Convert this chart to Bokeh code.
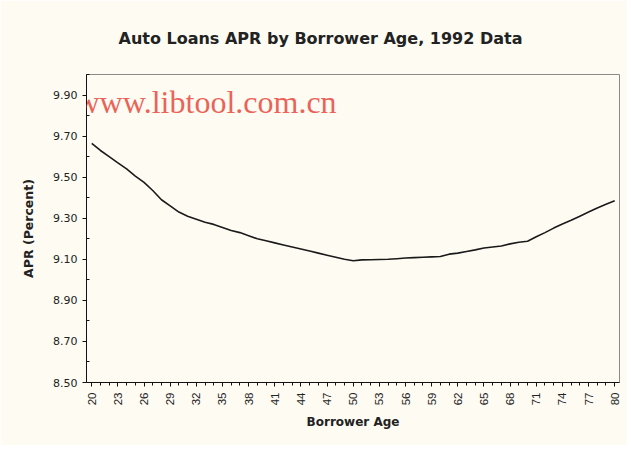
import math
from bokeh.plotting import figure
from bokeh.models import Range1d, FixedTicker, CustomJSTickFormatter, Label
from bokeh.embed import file_html
from bokeh.resources import INLINE

ages = list(range(20, 81))
apr = [9.665, 9.63, 9.60, 9.57, 9.54, 9.505, 9.475, 9.435, 9.39, 9.36,
       9.33, 9.31, 9.295, 9.28, 9.27, 9.255, 9.24, 9.23, 9.215, 9.20,
       9.19, 9.18, 9.17, 9.16, 9.15, 9.14, 9.13, 9.12, 9.11, 9.10,
       9.093, 9.097, 9.098, 9.099, 9.10, 9.103, 9.106, 9.108, 9.110, 9.112,
       9.114, 9.125, 9.13, 9.138, 9.146, 9.155, 9.16, 9.165, 9.175, 9.183,
       9.188, 9.21, 9.23, 9.252, 9.272, 9.29, 9.31, 9.33, 9.35, 9.368,
       9.385]
x_tick_labels = list(range(20, 81, 3))
y_ticks = [8.5, 8.7, 8.9, 9.1, 9.3, 9.5, 9.7, 9.9]

BG = "#FDFBF2"
TXT = "#222222"
FONT = "DejaVu Sans"

p = figure(width=627, height=445, output_backend="svg", toolbar_location=None,
           x_range=Range1d(20 - 0.6, 80 + 0.55), y_range=Range1d(8.5, 10.0),
           min_border_left=86, min_border_right=8, min_border_bottom=63, min_border_top=72,
           title="Auto Loans APR by Borrower Age, 1992 Data")
p.background_fill_color = BG
p.border_fill_color = BG
p.outline_line_color = "#8a8a8a"
p.outline_line_width = 1
p.grid.visible = False

p.line(ages, apr, line_color="#1a1a1a", line_width=1.6)

# title
p.title.align = "left"
p.title.offset = 32
p.title.text_font = FONT
p.title.text_font_size = "16px"
p.title.text_font_style = "bold"
p.title.text_color = TXT
p.title.standoff = 53

# x axis
xa = p.xaxis[0]
xa.ticker = FixedTicker(ticks=x_tick_labels, minor_ticks=ages)
xa.major_label_orientation = math.pi / 2
xa.major_label_text_font = "Liberation Sans"
xa.major_label_text_font_size = "11.5px"
xa.major_label_text_color = TXT
xa.major_label_standoff = 6
xa.major_tick_in = 0
xa.major_tick_out = 4
xa.minor_tick_in = 0
xa.minor_tick_out = 3
xa.axis_line_color = "#111111"
xa.major_tick_line_color = "#111111"
xa.minor_tick_line_color = "#111111"
xa.axis_label = "Borrower Age"
xa.axis_label_text_font = FONT
xa.axis_label_text_font_size = "12px"
xa.axis_label_text_font_style = "bold"
xa.axis_label_text_color = TXT
xa.axis_label_standoff = 7

# y axis
ya = p.yaxis[0]
ya.ticker = FixedTicker(ticks=y_ticks, minor_ticks=[8.6, 8.8, 9.0, 9.2, 9.4, 9.6, 9.8, 10.0])
ya.formatter = CustomJSTickFormatter(code="return tick.toFixed(2);")
ya.major_label_text_font = FONT
ya.major_label_text_font_size = "11px"
ya.major_label_text_color = TXT
ya.major_label_standoff = 5
ya.major_tick_in = 0
ya.major_tick_out = 4
ya.minor_tick_in = 3
ya.minor_tick_out = 0
ya.axis_line_color = "#111111"
ya.major_tick_line_color = "#111111"
ya.minor_tick_line_color = "#111111"
ya.axis_label = "APR (Percent)"
ya.axis_label_text_font = FONT
ya.axis_label_text_font_size = "12.5px"
ya.axis_label_text_font_style = "bold"
ya.axis_label_text_color = TXT
ya.axis_label_standoff = 14

# watermark
wm = Label(x=18.25, y=9.868, text="www.libtool.com.cn", text_font="Liberation Serif",
           text_font_size="32px", text_color="#E8473C", text_alpha=0.85,
           text_baseline="middle", text_align="left")
p.add_layout(wm)

open("out.html", "w").write(file_html(p, INLINE))
